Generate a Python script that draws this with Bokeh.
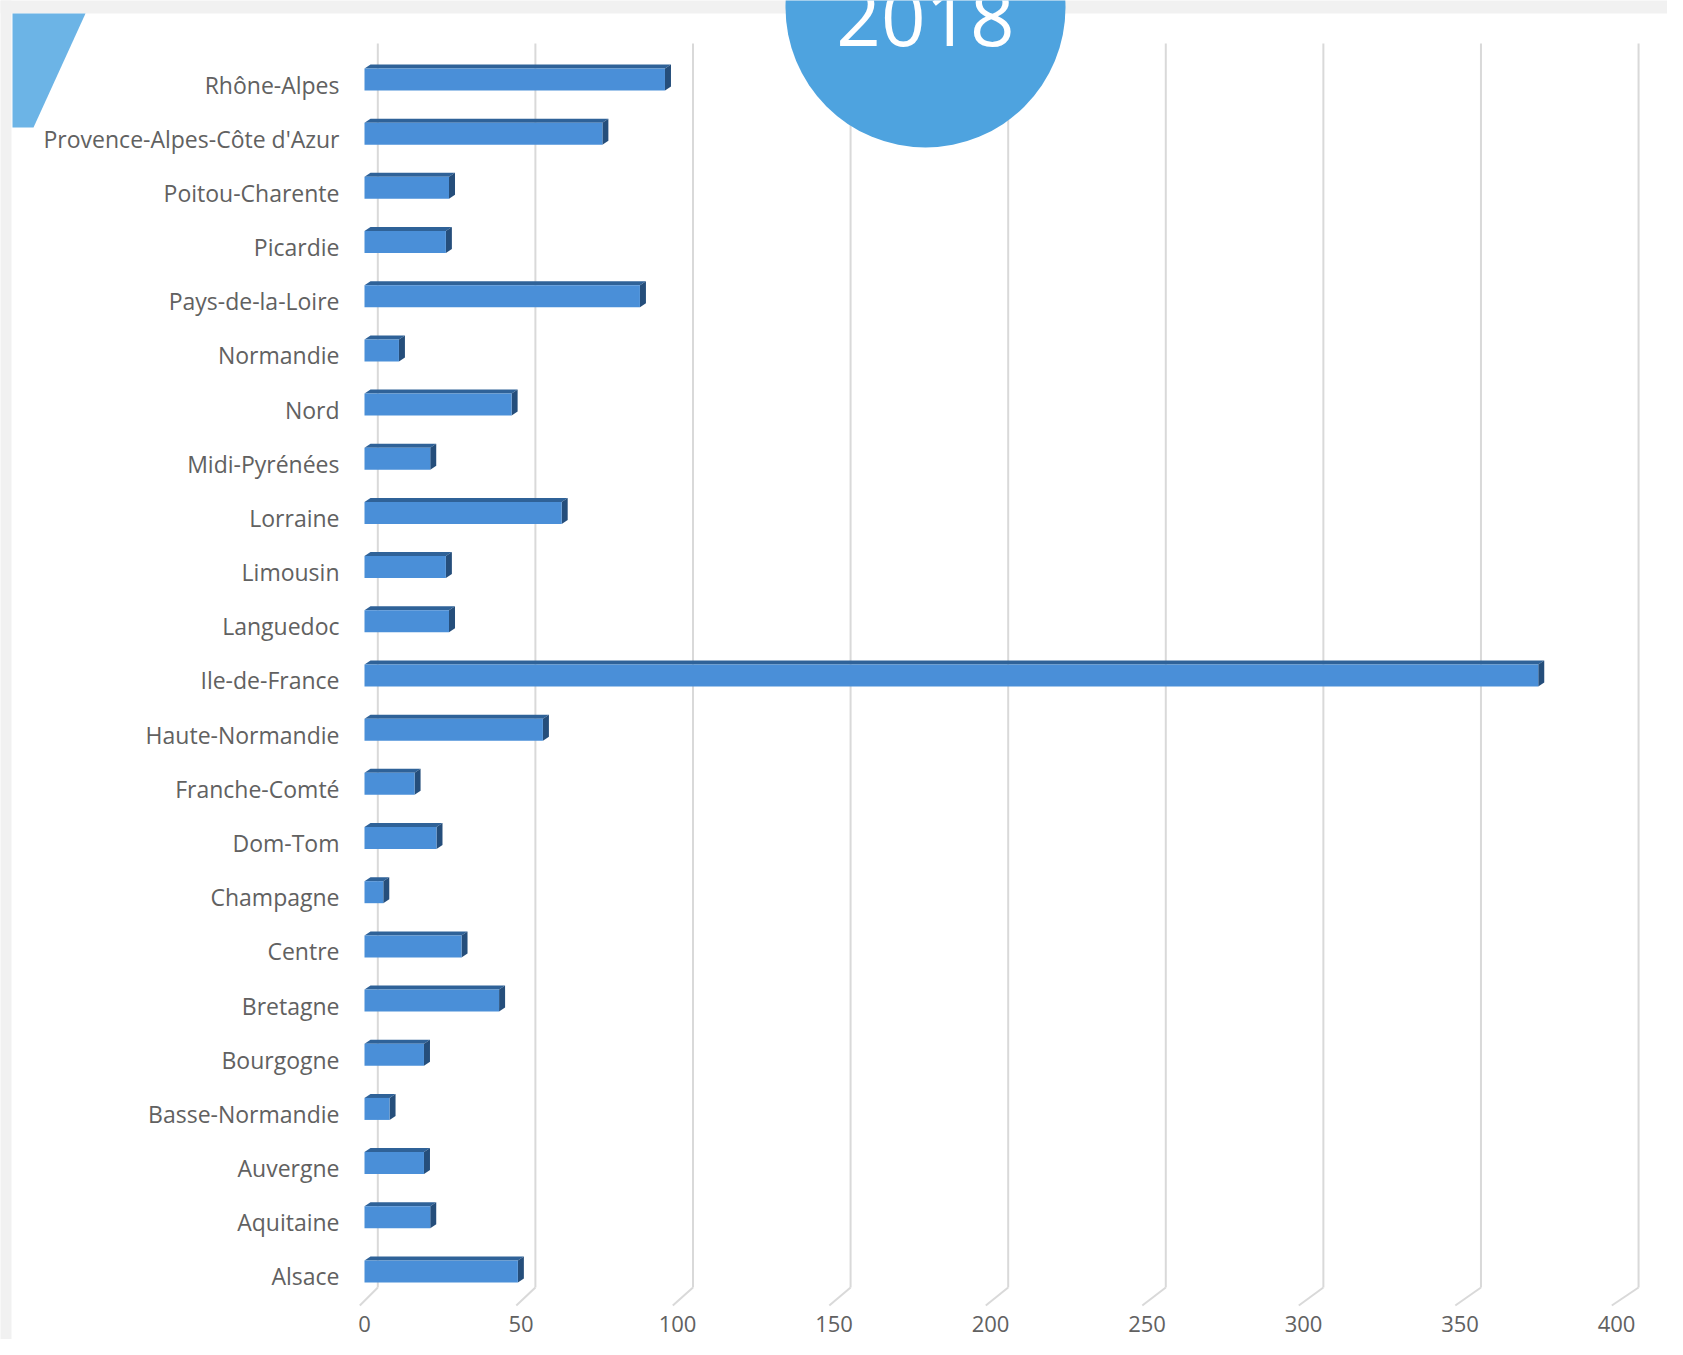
from bokeh.plotting import figure
from bokeh.models import Range1d, FixedTicker, PolyAnnotation, BoxAnnotation
from bokeh.core.properties import value
from bokeh.embed import file_html
from bokeh.resources import INLINE

# ---------------- data ----------------
regions = ["Alsace", "Aquitaine", "Auvergne", "Basse-Normandie", "Bourgogne",
           "Bretagne", "Centre", "Champagne", "Dom-Tom", "Franche-Comté",
           "Haute-Normandie", "Ile-de-France", "Languedoc", "Limousin",
           "Lorraine", "Midi-Pyrénées", "Nord", "Normandie", "Pays-de-la-Loire",
           "Picardie", "Poitou-Charente", "Provence-Alpes-Côte d'Azur",
           "Rhône-Alpes"]
counts = [49, 21, 19, 8, 19, 43, 31, 6, 23, 16, 57, 375, 27, 26, 63, 21, 47,
          11, 88, 26, 27, 76, 96]
x_ticks = [0, 50, 100, 150, 200, 250, 300, 350, 400]
year_label = "2018"

# ---------------- layout / style ----------------
W, H = 1667, 1339
ZERO_PX = 364             # canvas px of value 0 (front plane)
PX_X = 3.13               # px per unit (x)
PX_Y = 54.18              # px per row
FIRST_ROW_PX = 84         # canvas px of top row label
n = len(regions)

X0 = -ZERO_PX / PX_X
X1 = X0 + W / PX_X
Y1 = (n - 1) + FIRST_ROW_PX / PX_Y
Y0 = Y1 - H / PX_Y


def fx(px):
    return X0 + px / PX_X


def fy(py):
    return Y1 - py / PX_Y


TEXT = "#616161"
FRONT = "#4a8fd8"
TOPFACE = "#2f6298"
SIDE = "#254e7b"
GRID = "#d9d9d9"
CIRCLE = "#4ea3df"
SHAPE = "#6cb4e6"
BAND = "#f1f1f1"
FONT = "Open Sans"

BAR_H = 22 / PX_Y
LIFT = 5 / PX_Y
DEPTH_X = 6 / PX_X
DEPTH_Y = 4 / PX_Y
GRID_SHIFT = 4.25
GRID_SCALE = 1.007
FLOOR_BACK = 1.5

p = figure(width=W, height=H, output_backend="svg", toolbar_location=None,
           x_range=Range1d(X0, X1), y_range=Range1d(Y0, Y1),
           min_border_left=0, min_border_right=0, min_border_top=0,
           min_border_bottom=0)
p.outline_line_color = None
p.grid.visible = False
p.background_fill_color = "white"
p.border_fill_color = "white"

# x axis (drawn inside the canvas at a fixed place)
p.xaxis.fixed_location = fy(1294)
p.xaxis.ticker = FixedTicker(ticks=x_ticks)
p.xaxis.axis_line_color = None
p.xaxis.major_tick_line_color = None
p.xaxis.minor_tick_line_color = None
p.xaxis.major_label_standoff = 15
p.xaxis.major_label_text_font = FONT
p.xaxis.major_label_text_font_size = "22px"
p.xaxis.major_label_text_color = TEXT

# y axis
p.yaxis.fixed_location = fx(355)
p.yaxis.ticker = FixedTicker(ticks=list(range(n)))
p.yaxis.major_label_overrides = {i: r for i, r in enumerate(regions)}
p.yaxis.axis_line_color = None
p.yaxis.major_tick_line_color = None
p.yaxis.minor_tick_line_color = None
p.yaxis.major_label_standoff = 10
p.yaxis.major_label_text_font = FONT
p.yaxis.major_label_text_font_size = "23px"
p.yaxis.major_label_text_color = TEXT

# decorations: gray page band and top-left shape
p.add_layout(BoxAnnotation(left=fx(-5), right=fx(W + 5), bottom=fy(13), top=fy(-5),
                           fill_color=BAND, fill_alpha=1, line_color=None,
                           level="underlay"))
p.add_layout(BoxAnnotation(left=fx(-5), right=fx(11), bottom=fy(H + 5), top=fy(-5),
                           fill_color=BAND, fill_alpha=1, line_color=None,
                           level="underlay"))
p.add_layout(PolyAnnotation(xs=[fx(12), fx(85), fx(33), fx(12)],
                            ys=[fy(13), fy(13), fy(127), fy(127)],
                            fill_color=SHAPE, fill_alpha=1, line_color=None,
                            level="underlay"))

# gridlines (back wall, with slanted floor edge)
gx = [GRID_SHIFT + GRID_SCALE * t for t in x_ticks]
g_top, g_bot, g_floor = fy(43), fy(1287), fy(1305)
p.segment(x0=gx, y0=[g_top] * len(gx), x1=gx, y1=[g_bot] * len(gx),
          line_color=GRID, line_width=2)
p.segment(x0=gx, y0=[g_bot] * len(gx), x1=[t - FLOOR_BACK for t in x_ticks],
          y1=[g_floor] * len(gx), line_color=GRID, line_width=2)

# big circle with year
cx = fx(925)
p.scatter(x=[cx], y=[fy(7)], size=280, marker="circle", fill_color=CIRCLE,
          line_color=None)
p.text(x=[cx], y=[fy(17)], text=[year_label], text_font=value(FONT),
       text_font_size="78px", text_color="white", text_align="center",
       text_baseline="alphabetic")

# 3D-looking bars
yc = [i + LIFT for i in range(n)]
bot = [c - BAR_H / 2 for c in yc]
top = [c + BAR_H / 2 for c in yc]
top_xs = [[0, v, v + DEPTH_X, DEPTH_X] for v in counts]
top_ys = [[t, t, t + DEPTH_Y, t + DEPTH_Y] for t in top]
side_xs = [[v, v, v + DEPTH_X, v + DEPTH_X] for v in counts]
side_ys = [[b, t, t + DEPTH_Y, b + DEPTH_Y] for b, t in zip(bot, top)]
p.patches(xs=top_xs, ys=top_ys, fill_color=TOPFACE, line_color=None)
p.patches(xs=side_xs, ys=side_ys, fill_color=SIDE, line_color=None)
p.quad(left=0, right=counts, bottom=bot, top=top, fill_color=FRONT,
       line_color=None)

open("out.html", "w").write(file_html(p, INLINE))
